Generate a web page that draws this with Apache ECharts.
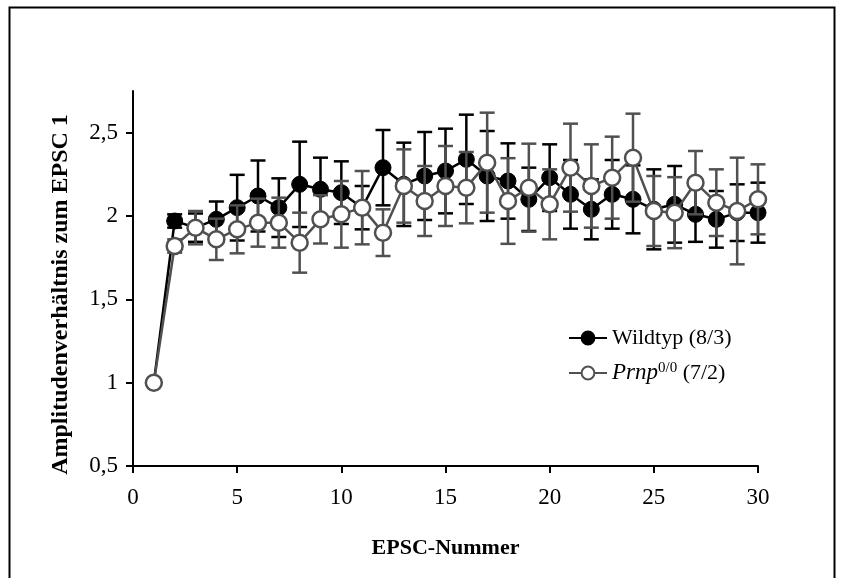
<!DOCTYPE html>
<html>
<head>
<meta charset="utf-8">
<script src="https://cdn.jsdelivr.net/npm/echarts@6/dist/echarts.min.js"></script>
<style>html,body{margin:0;padding:0;background:#fff;}#c{width:842px;height:578px;}</style>
</head>
<body>
<div id="c"></div>
<script>
var epsc = [1,2,3,4,5,6,7,8,9,10,11,12,13,14,15,16,17,18,19,20,21,22,23,24,25,26,27,28,29,30];
var wildtyp = [1.00,1.97,1.93,1.98,2.05,2.12,2.05,2.19,2.16,2.14,2.05,2.29,2.19,2.24,2.27,2.34,2.24,2.21,2.10,2.23,2.13,2.04,2.13,2.10,2.04,2.07,2.01,1.98,2.02,2.02];
var wildtypErr = [0,0.04,0.085,0.107,0.197,0.213,0.176,0.256,0.19,0.188,0.13,0.226,0.25,0.264,0.254,0.268,0.27,0.226,0.19,0.2,0.206,0.18,0.206,0.204,0.24,0.23,0.165,0.17,0.17,0.18];
var prnp = [1.00,1.82,1.93,1.86,1.92,1.96,1.96,1.84,1.98,2.01,2.05,1.90,2.18,2.09,2.18,2.17,2.32,2.09,2.17,2.07,2.29,2.18,2.23,2.35,2.03,2.02,2.20,2.08,2.03,2.10];
var prnpErr = [0,0.04,0.1,0.124,0.144,0.144,0.15,0.18,0.145,0.2,0.22,0.14,0.22,0.21,0.24,0.214,0.30,0.257,0.264,0.21,0.264,0.25,0.246,0.264,0.21,0.213,0.19,0.2,0.32,0.21];
var xTicks = [0,5,10,15,20,25,30];
var yTicks = ['0,5','1','1,5','2','2,5'];

var nameWild = 'Wildtyp (8/3)';
var namePrnp = 'Prnp0/0 (7/2)';
var FONT = '"Liberation Serif","Times New Roman",serif';
var GRAY = '#505050';

function pairs(vals){ return epsc.map(function(x,i){ return [x, vals[i]]; }); }
function errData(vals, errs){ return epsc.map(function(x,i){ return [x, vals[i], errs[i]]; }); }

function errRender(color){
  return function(params, api){
    var x = api.value(0), y = api.value(1), e = api.value(2);
    if (!e) return null;
    var top = api.coord([x, y + e]);
    var bot = api.coord([x, y - e]);
    var hw = 7.5;
    var st = {stroke: color, lineWidth: 2.5};
    return {type:'group', children:[
      {type:'line', shape:{x1:top[0], y1:top[1], x2:bot[0], y2:bot[1]}, style:st},
      {type:'line', shape:{x1:top[0]-hw, y1:top[1], x2:top[0]+hw, y2:top[1]}, style:st},
      {type:'line', shape:{x1:bot[0]-hw, y1:bot[1], x2:bot[0]+hw, y2:bot[1]}, style:st}
    ]};
  };
}

var chart = echarts.init(document.getElementById('c'), null, {renderer:'canvas'});
chart.setOption({
  animation: false,
  backgroundColor: '#fff',
  graphic: [{
    type:'polyline', silent:true,
    shape:{points:[[9.5,600],[9.5,7.5],[834.5,7.5],[834.5,600]]},
    style:{stroke:'#000', lineWidth:2, fill:null}
  }],
  grid: {left:133, right:84, top:91, bottom:112, containLabel:false},
  xAxis: {
    type:'value', min:0, max:30, interval:5,
    name:'EPSC-Nummer', nameLocation:'middle', nameGap:71,
    nameTextStyle:{fontFamily:FONT, fontWeight:'bold', fontSize:22, color:'#000'},
    axisLine:{lineStyle:{color:'#000', width:2}},
    axisTick:{show:true, length:7, inside:false, lineStyle:{color:'#000', width:2}},
    axisLabel:{fontFamily:FONT, fontSize:23, color:'#000', margin:20,
      formatter:function(v){ return xTicks.indexOf(v) >= 0 ? String(v) : ''; }},
    splitLine:{show:false}
  },
  yAxis: {
    type:'value', min:0.5, max:2.75, interval:0.5,
    name:'Amplitudenverhältnis zum EPSC 1', nameLocation:'middle', nameGap:60, nameRotate:90,
    nameTextStyle:{fontFamily:FONT, fontWeight:'bold', fontSize:24, color:'#000', padding:[0,32,0,0]},
    axisLine:{show:true, lineStyle:{color:'#000', width:2}},
    axisTick:{show:true, length:7, inside:false, lineStyle:{color:'#000', width:2}},
    axisLabel:{fontFamily:FONT, fontSize:23, color:'#000', margin:15, showMaxLabel:false,
      formatter:function(v){ var i = Math.round((v-0.5)/0.5); return (Math.abs(v - (0.5 + i*0.5)) < 1e-6 && yTicks[i]) ? yTicks[i] : ''; }},
    splitLine:{show:false}
  },
  legend: {
    orient:'vertical', left:568, top:326, padding:0, itemWidth:38, itemHeight:16, itemGap:11,
    data:[nameWild, namePrnp],
    textStyle:{fontFamily:FONT, fontSize:22, color:'#000', lineHeight:24,
      rich:{
        it:{fontFamily:FONT, fontSize:23, fontStyle:'italic', color:'#000', lineHeight:24},
        sup:{fontFamily:FONT, fontSize:15, color:'#000', verticalAlign:'top', lineHeight:15},
        n:{fontFamily:FONT, fontSize:22, color:'#000', lineHeight:24}
      }},
    formatter:function(name){
      if (name === namePrnp) return '{it|Prnp}{sup|0/0}{n| (7/2)}';
      return name;
    }
  },
  series: [
    {type:'custom', name:'errWild', renderItem:errRender('#000'), data:errData(wildtyp, wildtypErr), z:1, encode:{x:0,y:1}, silent:true},
    {type:'line', name:nameWild, data:pairs(wildtyp), z:2, symbol:'circle', symbolSize:16,
      lineStyle:{color:'#000', width:2.5}, itemStyle:{color:'#000', borderColor:'#000', borderWidth:1}},
    {type:'custom', name:'errPrnp', renderItem:errRender(GRAY), data:errData(prnp, prnpErr), z:3, encode:{x:0,y:1}, silent:true},
    {type:'line', name:namePrnp, data:pairs(prnp), z:4, symbol:'circle', symbolSize:16,
      lineStyle:{color:GRAY, width:2.5}, itemStyle:{color:'#fff', borderColor:GRAY, borderWidth:2.5}}
  ]
});
</script>
</body>
</html>
